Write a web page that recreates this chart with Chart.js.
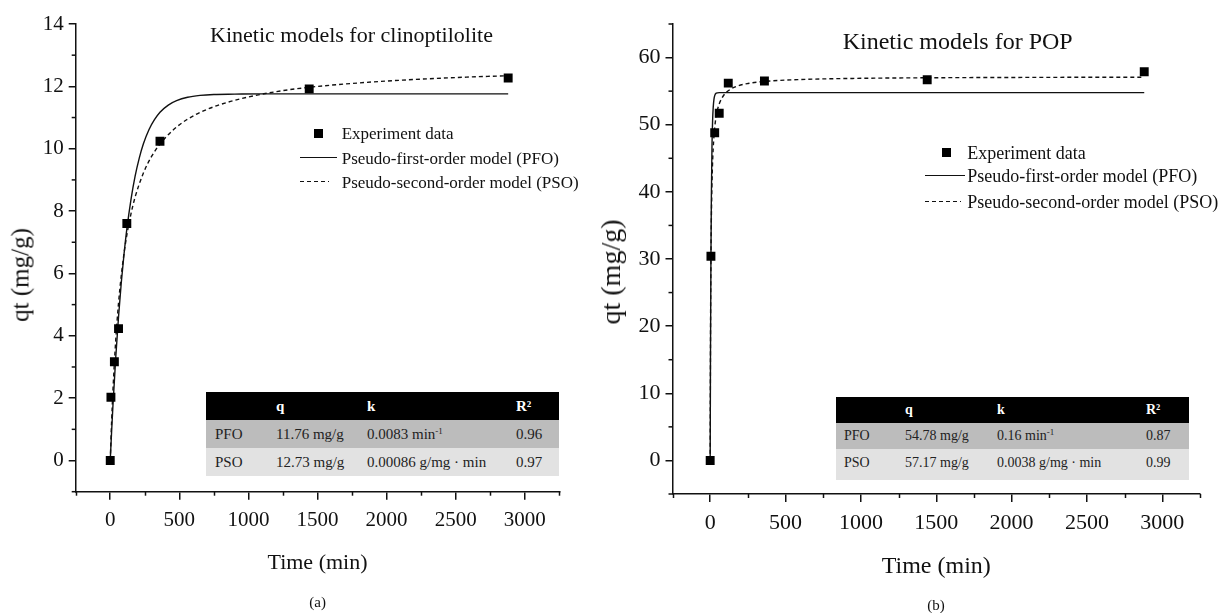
<!DOCTYPE html>
<html><head><meta charset="utf-8">
<script src="https://cdn.jsdelivr.net/npm/chart.js@4.4.1/dist/chart.umd.min.js"></script>
<style>
html,body{margin:0;padding:0;background:#fff}
body{width:1226px;height:613px;overflow:hidden;position:relative;font-family:"Liberation Serif","Times New Roman",serif;color:#111}
canvas{position:absolute;top:0}
.t{position:absolute;white-space:nowrap;transform:translate(-50%,-50%);line-height:1}
.yt{position:absolute;white-space:nowrap;transform:translate(-50%,-50%) rotate(-90deg);line-height:1}
.lt{position:absolute;white-space:nowrap;transform:translateY(-50%);line-height:1}
.cell{position:absolute;top:0;white-space:nowrap}
sup{font-size:9px;vertical-align:5px;line-height:0}
</style></head><body>
<canvas id="cA" width="613" height="613" style="left:0"></canvas>
<canvas id="cB" width="613" height="613" style="left:613px"></canvas>
<script>
// ---------- data ----------
const timeA = [0, 5, 30, 60, 120, 360, 1440, 2880];
const qtA = [0, 2.03, 3.17, 4.23, 7.6, 10.24, 11.92, 12.27];
const pfoTimeA = [0,10,20,40,60,80,100,120,150,180,210,240,280,320,360,420,480,560,650,750,900,1100,1500,2000,2500,2880];
const pfoA = [0,0.94,1.80,3.32,4.61,5.71,6.63,7.42,8.37,9.12,9.70,10.16,10.61,10.93,11.17,11.40,11.54,11.65,11.71,11.74,11.75,11.76,11.76,11.76,11.76,11.76];
const psoTimeA = [0,10,20,40,60,80,100,120,150,180,240,300,360,450,550,700,850,1000,1200,1440,1800,2200,2600,2880];
const psoA = [0,1.26,2.29,3.88,5.05,5.94,6.65,7.23,7.91,8.45,9.22,9.76,10.15,10.58,10.92,11.26,11.49,11.66,11.83,11.97,12.11,12.22,12.30,12.34];

const timeB = [0, 5, 30, 60, 120, 360, 1440, 2880];
const qtB = [0, 30.4, 48.8, 51.7, 56.2, 56.5, 56.7, 57.9];
const pfoTimeB = [0,2,5,8,12,16,20,25,30,40,60,2880];
const pfoB = [0,15.0,30.17,39.55,46.75,50.55,52.55,53.78,54.33,54.69,54.78,54.78];
const psoTimeB = [0,2,5,10,15,20,30,45,60,90,120,180,250,360,600,1000,1440,2000,2880];
const psoB = [0,17.32,29.77,39.15,43.75,46.47,49.57,51.86,53.09,54.39,55.06,55.75,56.14,56.45,56.73,56.91,56.99,57.04,57.08];

const xTickLabels = [0, 500, 1000, 1500, 2000, 2500, 3000];
const yTickLabelsA = [0, 2, 4, 6, 8, 10, 12, 14];
const yTickLabelsB = [0, 10, 20, 30, 40, 50, 60];

const seriesNames = ['Experiment data', 'Pseudo-first-order model (PFO)', 'Pseudo-second-order model (PSO)'];
const titleA = 'Kinetic models for clinoptilolite';
const titleB = 'Kinetic models for POP';
const xTitle = 'Time (min)';
const yTitle = 'qt (mg/g)';

const tableHead = ['', 'q', 'k', 'R²'];
const tableRowsA = [['PFO', '11.76 mg/g', '0.0083 min<sup>-1</sup>', '0.96'], ['PSO', '12.73 mg/g', '0.00086 g/mg · min', '0.97']];
const tableRowsB = [['PFO', '54.78 mg/g', '0.16 min<sup>-1</sup>', '0.87'], ['PSO', '57.17 mg/g', '0.0038 g/mg · min', '0.99']];

// ---------- helpers ----------
const pts = (xs, ys) => xs.map((x, i) => ({x: x, y: ys[i]}));
const INK = '#111';

function minorTickPlugin(yLabels) {
  return {
    id: 'minorTicks',
    afterDraw(chart) {
      const ctx = chart.ctx, a = chart.chartArea;
      ctx.save();
      ctx.strokeStyle = INK; ctx.lineWidth = 1.5;
      const xs = chart.scales.x, ys = chart.scales.y;
      xs.ticks.forEach(t => {
        if (!xTickLabels.includes(t.value)) {
          const p = Math.round(xs.getPixelForValue(t.value)) + 0.5;
          ctx.beginPath(); ctx.moveTo(p, a.bottom); ctx.lineTo(p, a.bottom + 4); ctx.stroke();
        }
      });
      ys.ticks.forEach(t => {
        if (!yLabels.includes(t.value)) {
          const p = ys.getPixelForValue(t.value);
          ctx.beginPath(); ctx.moveTo(a.left, p); ctx.lineTo(a.left - 4, p); ctx.stroke();
        }
      });
      ctx.restore();
    }
  };
}

function makeChart(id, cfg) {
  return new Chart(document.getElementById(id), {
    type: 'scatter',
    data: {
      datasets: [
        {label: seriesNames[0], data: pts(cfg.t, cfg.q), showLine: false, pointStyle: 'rect', pointRadius: 6.3, pointHoverRadius: 6.3, backgroundColor: '#000', borderWidth: 0, order: 0},
        {label: seriesNames[1], data: pts(cfg.pfoT, cfg.pfo), showLine: true, pointRadius: 0, borderColor: INK, borderWidth: 1.4, cubicInterpolationMode: 'monotone', order: 1},
        {label: seriesNames[2], data: pts(cfg.psoT, cfg.pso), showLine: true, pointRadius: 0, borderColor: INK, borderWidth: 1.4, borderDash: [4, 3], cubicInterpolationMode: 'monotone', order: 2}
      ]
    },
    options: {
      responsive: false, animation: false, devicePixelRatio: 1,
      layout: {padding: {top: cfg.top, right: cfg.padRight, bottom: 0, left: 0}},
      plugins: {legend: {display: false}, tooltip: {enabled: false}, title: {display: false}},
      scales: {
        x: {
          type: 'linear', min: -250, max: 3250,
          ticks: {stepSize: 250, autoSkip: false, maxRotation: 0, minRotation: 0, padding: cfg.xPad, color: INK,
            font: {family: 'Liberation Serif', size: cfg.tickFont},
            callback: v => xTickLabels.includes(v) ? String(v) : ''},
          grid: {drawOnChartArea: false, drawTicks: true, tickLength: 8, lineWidth: 1.5,
            tickColor: c => (c.tick && xTickLabels.includes(c.tick.value)) ? INK : 'rgba(0,0,0,0)'},
          border: {display: true, color: INK, width: 1.5},
          title: {display: true, text: xTitle, color: INK, font: {family: 'Liberation Serif', size: cfg.xTitleFont},
            padding: {top: 0, bottom: cfg.xTitlePad}},
          afterFit: s => { s.height = cfg.xH; }
        },
        y: {
          type: 'linear', min: cfg.yMin, max: cfg.yMax,
          ticks: {stepSize: cfg.yStep, autoSkip: false, padding: 5, color: INK,
            font: {family: 'Liberation Serif', size: cfg.tickFont},
            callback: v => cfg.yLabels.includes(v) ? String(v) : ''},
          grid: {drawOnChartArea: false, drawTicks: true, tickLength: 7, lineWidth: 1.5,
            tickColor: c => (c.tick && cfg.yLabels.includes(c.tick.value)) ? INK : 'rgba(0,0,0,0)'},
          border: {display: true, color: INK, width: 1.5},
          afterFit: s => { s.width = cfg.yW; }
        }
      }
    },
    plugins: [minorTickPlugin(cfg.yLabels)]
  });
}

makeChart('cA', {t: timeA, q: qtA, pfoT: pfoTimeA, pfo: pfoA, psoT: psoTimeA, pso: psoA,
  yMin: -1, yMax: 14, yStep: 1, yLabels: yTickLabelsA, top: 24, padRight: 53.7, yW: 75.7, xH: 121.3,
  tickFont: 21, xPad: 8, xTitleFont: 22, xTitlePad: 36.8});
makeChart('cB', {t: timeB, q: qtB, pfoT: pfoTimeB, pfo: pfoB, psoT: psoTimeB, pso: psoB,
  yMin: -5, yMax: 65, yStep: 5, yLabels: yTickLabelsB, top: 24, padRight: 26, yW: 59.5, xH: 119,
  tickFont: 22, xPad: 8, xTitleFont: 24, xTitlePad: 31.9});

// ---------- annotations (HTML text) ----------
function addText(cls, txt, x, y, size) {
  const d = document.createElement('div');
  d.className = cls; d.textContent = txt;
  d.style.left = x + 'px'; d.style.top = y + 'px'; d.style.fontSize = size + 'px';
  document.body.appendChild(d);
  return d;
}
function addBox(x, y, w, h, css) {
  const d = document.createElement('div');
  d.style.cssText = 'position:absolute;left:' + x + 'px;top:' + y + 'px;width:' + w + 'px;height:' + h + 'px;' + (css || '');
  document.body.appendChild(d);
  return d;
}

addText('t', titleA, 351.5, 35, 22);
addText('t', titleB, 957.7, 41, 24);
addText('yt', yTitle, 20, 275, 25);
addText('yt', yTitle, 611, 272, 28);
addText('t', '(a)', 317.6, 601.7, 15);
addText('t', '(b)', 936, 605, 15);

function addLegend(L) {
  addBox(L.sq[0] - 4.5, L.sq[1] - 4.5, 9, 9, 'background:#000');
  addBox(L.solid[0], L.solid[2] - 0.7, L.solid[1] - L.solid[0], 0, 'border-top:1.4px solid ' + INK);
  addBox(L.dash[0], L.dash[2] - 0.7, L.dash[1] - L.dash[0], 1.4,
    'background:repeating-linear-gradient(90deg,' + INK + ' 0 4px,transparent 4px 7px)');
  addText('lt', seriesNames[0], L.tx, L.ty[0], L.size);
  addText('lt', seriesNames[1], L.tx, L.ty[1], L.size);
  addText('lt', seriesNames[2], L.tx, L.ty[2], L.size);
}
addLegend({sq: [318.4, 133.3], solid: [300.4, 336.8, 157.7], dash: [300.4, 329, 181.7], tx: 341.7, ty: [133.3, 157.5, 181.5], size: 17});
addLegend({sq: [946.5, 152.7], solid: [925.3, 965.3, 176], dash: [925, 961, 201.7], tx: 967.3, ty: [152.7, 176, 201.5], size: 18});

function addTable(T) {
  const bgs = ['#000', '#bcbcbc', '#e2e2e2'];
  const rows = [tableHead].concat(T.rows);
  let y = T.y;
  rows.forEach((r, ri) => {
    const row = addBox(T.x, y, T.w, T.h[ri], 'background:' + bgs[ri]);
    r.forEach((c, ci) => {
      const cell = document.createElement('div');
      cell.className = 'cell';
      cell.innerHTML = c;
      cell.style.left = T.cols[ci] + 'px';
      cell.style.lineHeight = T.lh[ri] + 'px';
      cell.style.fontSize = T.size + 'px';
      cell.style.color = ri === 0 ? '#fff' : '#222';
      if (ri === 0) cell.style.fontWeight = 'bold';
      row.appendChild(cell);
    });
    y += T.h[ri];
  });
}
addTable({x: 206, y: 392, w: 353, h: [28, 28, 28], lh: [28, 28, 28], cols: [9, 70, 161, 310], rows: tableRowsA, size: 15});
addTable({x: 836, y: 397, w: 353, h: [26, 26, 31], lh: [26, 26, 27], cols: [8, 69, 161, 310], rows: tableRowsB, size: 14});
</script>
</body></html>
